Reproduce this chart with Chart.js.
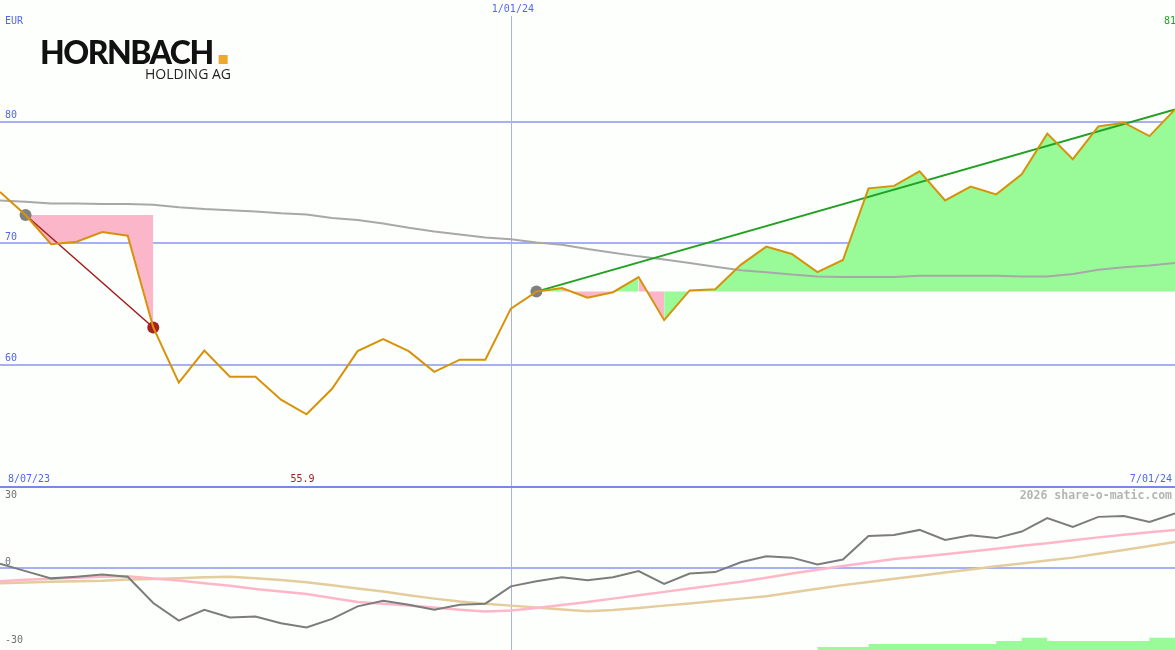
<!DOCTYPE html>
<html>
<head>
<meta charset="utf-8">
<title>Hornbach Holding AG</title>
<script src="https://cdn.jsdelivr.net/npm/chart.js@4.4.1/dist/chart.umd.min.js"></script>
<style>
  body { margin: 0; background: #fdfffd; }
  #wrap { position: relative; width: 1175px; height: 650px; overflow: hidden; }
  #priceBox { position: absolute; left: 0; top: 0; width: 1175px; height: 486px; }
  #oscBox { position: absolute; left: 0; top: 486px; width: 1175px; height: 164px; }
</style>
</head>
<body>
<div id="wrap">
  <div id="priceBox"><canvas id="priceChart"></canvas></div>
  <div id="oscBox"><canvas id="oscChart"></canvas></div>
</div>

<script>
// ==================== DATA (weekly, 8/07/23 .. 7/01/24) ====================
const currency = 'EUR';
const dateLabels = ['8/07/23', '1/01/24', '7/01/24'];
const dateIdx = [0, 20, 46];
const priceTicks = [60, 70, 80];
const oscTicks = [30, 0, -30];

const price = [74.2, 72.3, 69.9, 70.1, 70.9, 70.6, 63.05, 58.5, 61.15, 59.0,
  59.0, 57.1, 55.9, 58.0, 61.1, 62.1, 61.1, 59.4, 60.4, 60.4,
  64.6, 66.0, 66.3, 65.5, 65.95, 67.2, 63.65, 66.1, 66.2, 68.2,
  69.7, 69.1, 67.6, 68.6, 74.5, 74.7, 75.9, 73.5, 74.65, 74.0,
  75.65, 79.0, 76.9, 79.6, 79.9, 78.8, 81.0];

const avgLong = [73.5, 73.4, 73.25, 73.25, 73.2, 73.2, 73.15, 72.95, 72.8, 72.7,
  72.6, 72.45, 72.35, 72.05, 71.9, 71.6, 71.25, 70.95, 70.7, 70.45,
  70.3, 70.05, 69.85, 69.5, 69.2, 68.9, 68.65, 68.35, 68.05, 67.75,
  67.6, 67.4, 67.25, 67.2, 67.2, 67.2, 67.3, 67.3, 67.3, 67.3,
  67.25, 67.25, 67.45, 67.8, 68.0, 68.15, 68.35];

// trend anchors (data indices)
const trendDown = [1, 6];
const trendUp = [21, 46];

const momentum = [1.8, -1.3, -4.3, -3.6, -2.7, -3.6, -14.5, -21.8, -17.3, -20.5,
  -20.1, -22.9, -24.7, -21.1, -15.9, -13.6, -15.2, -17.3, -15.2, -14.8,
  -7.6, -5.5, -3.8, -5.1, -3.8, -1.3, -6.6, -2.3, -1.7, 2.4,
  4.9, 4.3, 1.5, 3.5, 13.3, 13.7, 15.8, 11.6, 13.6, 12.4,
  15.1, 20.7, 17.0, 21.2, 21.6, 19.1, 22.6];

const avgFast = [-5.5, -4.9, -4.5, -4.0, -3.6, -3.4, -4.4, -5.2, -6.3, -7.4,
  -8.7, -9.7, -10.8, -12.4, -14.1, -14.8, -15.5, -16.4, -17.3, -18.0,
  -17.6, -16.6, -15.3, -14.1, -12.7, -11.3, -9.9, -8.5, -7.1, -5.7,
  -4.0, -2.3, -0.7, 0.8, 2.3, 3.7, 4.7, 5.7, 6.8, 8.0,
  9.2, 10.3, 11.5, 12.7, 13.8, 14.8, 15.8];

const avgSlow = [-6.3, -6.0, -5.7, -5.5, -5.3, -4.8, -4.6, -4.3, -3.8, -3.6,
  -4.2, -5.0, -5.9, -7.2, -8.5, -9.7, -11.3, -12.7, -13.9, -14.8,
  -15.6, -16.4, -17.2, -17.9, -17.4, -16.6, -15.6, -14.7, -13.7, -12.7,
  -11.7, -10.2, -8.6, -7.1, -5.8, -4.5, -3.2, -1.9, -0.6, 0.7,
  1.9, 3.1, 4.3, 5.9, 7.5, 9.1, 10.8];

const volume = [null, null, null, null, null, null, null, null, null, null,
  null, null, null, null, null, null, null, null, null, null,
  null, null, null, null, null, null, null, null, null, null,
  null, null, 1, 1, 2, 2, 2, 2, 2, 3,
  4, 3, 3, 3, 3, 4, 4];

// ==================== STYLE ====================
const GREEN_FILL = '#98fb98';
const PINK_FILL = '#fbb6c9';
const GRID = '#a6b0f2';
const LABEL_BLUE = '#5266f0';
const MONO = '"DejaVu Sans Mono", monospace';

function pts(arr) {
  return arr.map((v, i) => ({ x: i, y: v }));
}

function between(idx) {
  return idx.map(i => ({ x: i, y: price[i] }));
}

function inRange(arr, idx) {
  return arr.map((v, i) => ({ x: i, y: (i >= idx[0] && i <= idx[1]) ? v : null }));
}

const downBase = price[trendDown[0]];
const upBase = price[trendUp[0]];
const lastIdx = price.length - 1;

const xScale = { type: 'linear', min: 0, max: lastIdx, display: false };

// ==================== PRICE PANEL ====================
const priceDecor = {
  id: 'priceDecor',
  beforeDatasetsDraw(chart) {
    const { ctx, scales: { x, y }, width, height } = chart;
    ctx.save();
    ctx.strokeStyle = GRID;
    ctx.lineWidth = 2;
    priceTicks.forEach(v => {
      const py = Math.round(y.getPixelForValue(v));
      ctx.beginPath(); ctx.moveTo(0, py); ctx.lineTo(width, py); ctx.stroke();
    });
    // year marker
    const vx = Math.round(x.getPixelForValue(dateIdx[1])) + 0.5;
    ctx.lineWidth = 1;
    ctx.beginPath(); ctx.moveTo(vx, 16); ctx.lineTo(vx, height); ctx.stroke();
    ctx.restore();
  },
  afterDraw(chart) {
    const { ctx, scales: { x, y }, width } = chart;
    ctx.save();
    ctx.font = '10px ' + MONO;
    ctx.textBaseline = 'middle';
    ctx.fillStyle = LABEL_BLUE;
    ctx.textAlign = 'left';
    priceTicks.forEach(v => ctx.fillText(String(v), 5, y.getPixelForValue(v) - 6));
    ctx.fillText(currency, 5, 21);
    ctx.fillText(dateLabels[0], 8, 479);
    ctx.textAlign = 'center';
    ctx.fillText(dateLabels[1], x.getPixelForValue(dateIdx[1]) + 2, 9);
    ctx.textAlign = 'right';
    ctx.fillText(dateLabels[2], width - 3, 479);

    // last value of the up trend
    ctx.fillStyle = '#22a022';
    ctx.fillText(price[trendUp[1]].toFixed(0), width + 1, 21);

    // low of the period
    const low = Math.min(...price);
    ctx.fillStyle = '#a01c1c';
    ctx.textAlign = 'center';
    ctx.fillText(low.toFixed(1), x.getPixelForValue(price.indexOf(low)) - 4, 479);

    // logo
    ctx.textBaseline = 'alphabetic';
    ctx.textAlign = 'left';
    ctx.fillStyle = '#111';
    ctx.font = '900 32px Lato';
    ctx.letterSpacing = '-1.5px';
    const w = ctx.measureText('HORNBACH').width;
    ctx.fillText('HORNBACH', 40, 64);
    ctx.letterSpacing = '0px';
    ctx.fillStyle = '#f0a828';
    ctx.fillRect(40 + w + 6, 55, 9, 9);
    ctx.fillStyle = '#222';
    ctx.font = '14px "Open Sans"';
    ctx.textAlign = 'right';
    ctx.fillText('HOLDING AG', 231, 79);
    ctx.restore();
  }
};

new Chart(document.getElementById('priceChart'), {
  type: 'line',
  data: {
    datasets: [
      { data: pts(price), borderColor: '#d8920a', borderWidth: 2, pointRadius: 0 },
      {
        data: [trendDown[0], trendDown[1], trendUp[0]].map(i => ({ x: i, y: price[i] })),
        showLine: false, pointRadius: 6, pointBorderWidth: 0,
        pointBackgroundColor: ['#808080', '#a82020', '#808080']
      },
      { data: between(trendUp), borderColor: '#22a022', borderWidth: 2, pointRadius: 0 },
      { data: between(trendDown), borderColor: '#a01c1c', borderWidth: 1.5, pointRadius: 0 },
      { data: pts(avgLong), borderColor: '#a8a8a8', borderWidth: 2, pointRadius: 0 },
      {
        data: inRange(price, trendUp), borderWidth: 0, pointRadius: 0,
        backgroundColor: GREEN_FILL, fill: { value: upBase },
        segment: { backgroundColor: c => (c.p1.parsed.y > upBase ? GREEN_FILL : PINK_FILL) }
      },
      {
        data: inRange(price, trendDown), borderWidth: 0, pointRadius: 0,
        backgroundColor: PINK_FILL, fill: { value: downBase }
      }
    ]
  },
  options: {
    responsive: true,
    maintainAspectRatio: false,
    animation: false,
    layout: { padding: 0, autoPadding: false },
    plugins: { legend: { display: false }, tooltip: { enabled: false } },
    scales: { x: xScale, y: { min: 50, max: 90, display: false } }
  },
  plugins: [priceDecor]
});

// ==================== OSCILLATOR PANEL ====================
const oscDecor = {
  id: 'oscDecor',
  beforeDatasetsDraw(chart) {
    const { ctx, scales: { x, y }, width, height } = chart;
    ctx.save();
    ctx.strokeStyle = GRID;
    ctx.lineWidth = 2;
    const py = Math.round(y.getPixelForValue(0));
    ctx.beginPath(); ctx.moveTo(0, py); ctx.lineTo(width, py); ctx.stroke();
    const vx = Math.round(x.getPixelForValue(dateIdx[1])) + 0.5;
    ctx.lineWidth = 1;
    ctx.beginPath(); ctx.moveTo(vx, 0); ctx.lineTo(vx, height); ctx.stroke();
    ctx.restore();
  },
  afterDraw(chart) {
    const { ctx, scales: { y }, width } = chart;
    ctx.save();
    // panel separator
    ctx.strokeStyle = '#7888e8';
    ctx.lineWidth = 2;
    ctx.beginPath(); ctx.moveTo(0, 1); ctx.lineTo(width, 1); ctx.stroke();

    ctx.font = '10px ' + MONO;
    ctx.textBaseline = 'middle';
    ctx.fillStyle = '#707070';
    oscTicks.forEach(v => ctx.fillText(String(v), 5, y.getPixelForValue(v) - (v === 0 ? 6 : 0)));

    ctx.font = 'bold 11.5px ' + MONO;
    ctx.fillStyle = '#b4b4b4';
    ctx.textAlign = 'right';
    ctx.fillText('2026 share-o-matic.com', width - 3, 10);
    ctx.restore();
  }
};

new Chart(document.getElementById('oscChart'), {
  type: 'line',
  data: {
    datasets: [
      { data: pts(momentum), borderColor: '#7c7c7c', borderWidth: 2, pointRadius: 0 },
      { data: pts(avgFast), borderColor: '#ffb6c8', borderWidth: 2.5, pointRadius: 0 },
      { data: pts(avgSlow), borderColor: '#e4cc9c', borderWidth: 2.5, pointRadius: 0 },
      {
        data: pts(volume), yAxisID: 'yVol', stepped: true, borderWidth: 0, pointRadius: 0,
        backgroundColor: GREEN_FILL, fill: 'start'
      }
    ]
  },
  options: {
    responsive: true,
    maintainAspectRatio: false,
    animation: false,
    layout: { padding: 0, autoPadding: false },
    plugins: { legend: { display: false }, tooltip: { enabled: false } },
    scales: {
      x: xScale,
      y: { min: -34, max: 34, display: false },
      yVol: { min: 0, max: 54, display: false }
    }
  },
  plugins: [oscDecor]
});
</script>
</body>
</html>
